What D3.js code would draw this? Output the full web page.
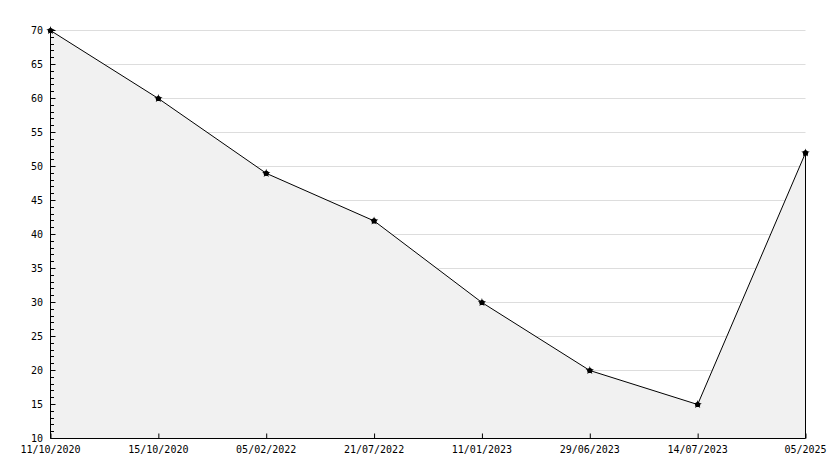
<!DOCTYPE html>
<html><head><meta charset="utf-8">
<script src="https://cdn.jsdelivr.net/npm/d3@7"></script>
<style>html,body{margin:0;padding:0;background:#fff}svg{display:block}</style>
</head><body>
<svg id="c" width="834" height="468"></svg>
<script>
const categories = ["11/10/2020","15/10/2020","05/02/2022","21/07/2022","11/01/2023","29/06/2023","14/07/2023","05/2025"];
const values = [70, 60, 49, 42, 30, 20, 15, 52];
const yTicks = [10, 15, 20, 25, 30, 35, 40, 45, 50, 55, 60, 65, 70];

const svg = d3.select("#c");
const L = 50.5, R = 805.5, T = 30.5, B = 438.5;
const x = d3.scalePoint().domain(categories).range([L, R]);
const y = d3.scaleLinear().domain([10, 70]).range([B, T]);
const font = "'DejaVu Sans Mono', monospace";
const py = d => Math.round(y(d) - 0.5) + 0.5;

// gridlines
svg.append("g").selectAll("line").data(yTicks.filter(d => d > 10)).join("line")
  .attr("x1", L).attr("x2", R).attr("y1", py).attr("y2", py)
  .attr("stroke", "#dddddd").attr("stroke-width", 1);

// area
const area = d3.area().x((d, i) => x(categories[i])).y0(B).y1(d => y(d));
svg.append("path").datum(values).attr("d", area).attr("fill", "#f1f1f1").attr("stroke", "none");
const line = d3.line().x((d, i) => x(categories[i])).y(d => y(d));
svg.append("path").datum(values).attr("d", line).attr("fill", "none").attr("stroke", "#000").attr("stroke-width", 1);
svg.append("line").attr("x1", R).attr("x2", R).attr("y1", y(values[values.length-1])).attr("y2", B).attr("stroke", "#000");

// y axis
const yAxis = d3.axisRight(y).tickValues(yTicks).tickSize(5).tickFormat("");
const ya = svg.append("g").attr("transform", `translate(${L},0)`).call(yAxis);
ya.select(".domain").attr("d", `M0,${T}V${B}`);
ya.selectAll(".tick").attr("transform", d => `translate(0,${py(d)})`);
const minor = d3.range(10, 71).filter(d => d % 5 !== 0);
svg.append("g").selectAll("line").data(minor).join("line")
  .attr("x1", L).attr("x2", L + 3.5).attr("y1", py).attr("y2", py).attr("stroke", "#000");
svg.append("g").selectAll("text").data(yTicks).join("text")
  .attr("x", 43).attr("y", d => y(d)).attr("dy", "0.35em").attr("text-anchor", "end")
  .attr("font-family", font).attr("font-size", 10).attr("fill", "#000").text(d => d);

// x axis
const xa = svg.append("g").attr("transform", `translate(0,${B})`)
  .call(d3.axisTop(x).tickSize(5).tickFormat(""));
xa.select(".domain").attr("d", `M${L},0H${R}`);
svg.append("g").selectAll("text").data(categories).join("text")
  .attr("x", d => x(d)).attr("y", 453).attr("text-anchor", "middle")
  .attr("font-family", font).attr("font-size", 10).attr("fill", "#000").text(d => d);

// markers
const star = d3.symbol().type(d3.symbolStar).size(22);
const mk = svg.append("g").selectAll("g").data(values).join("g")
  .attr("transform", (d, i) => `translate(${x(categories[i])},${y(d)})`);
mk.append("circle").attr("r", 2.6).attr("fill", "#000");
mk.append("path").attr("d", star).attr("fill", "#000");
</script>
</body></html>
